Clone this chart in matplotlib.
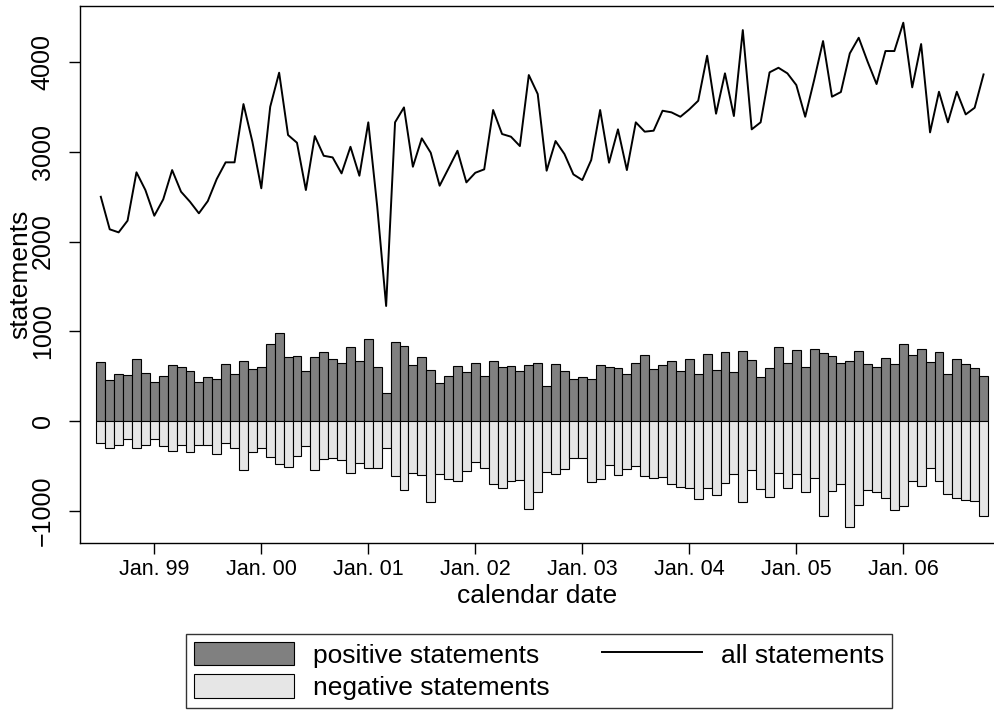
import matplotlib
matplotlib.use("Agg")
import matplotlib.pyplot as plt
import numpy as np
from matplotlib.patches import Patch
from matplotlib.lines import Line2D

plt.rcParams['font.family'] = ['Liberation Sans', 'DejaVu Sans']

# monthly counts, Jul 1998 .. Oct 2006
start_year = 1998.5
all_statements = [
    2498, 2136, 2102, 2232, 2770, 2573, 2287, 2469, 2795, 2554,
    2443, 2314, 2450, 2695, 2881, 2881, 3529, 3110, 2592, 3499,
    3878, 3185, 3099, 2573, 3173, 2954, 2936, 2758, 3054, 2732,
    3326, 2390, 1283, 3326, 3492, 2832, 3148, 2988, 2621, 2814,
    3010, 2658, 2765, 2803, 3463, 3196, 3166, 3062, 3852, 3641,
    2788, 3118, 2973, 2747, 2684, 2907, 3463, 2877, 3248, 2795,
    3326, 3222, 3233, 3455, 3437, 3388, 3470, 3566, 4067, 3422,
    3871, 3396, 4352, 3248, 3326, 3882, 3933, 3871, 3741, 3388,
    3796, 4230, 3611, 3663, 4093, 4267, 4000, 3752, 4119, 4119,
    4434, 3715, 4197, 3214, 3666, 3326, 3666, 3414, 3488, 3859,
]
positive = [
    656, 460, 530, 515, 697, 541, 441, 508, 630, 601,
    564, 441, 497, 467, 641, 530, 671, 586, 608, 864,
    983, 712, 730, 556, 712, 768, 693, 645, 827, 667,
    920, 604, 311, 886, 834, 630, 712, 567, 430, 504,
    619, 549, 649, 504, 671, 608, 619, 564, 627, 649,
    393, 638, 564, 471, 493, 471, 630, 608, 593, 523,
    649, 742, 582, 627, 675, 564, 690, 530, 753, 575,
    768, 552, 786, 686, 493, 593, 823, 653, 790, 601,
    801, 756, 723, 653, 671, 786, 638, 608, 701, 641,
    864, 742, 805, 660, 775, 523, 690, 634, 593, 501,
]
negative = [
    245, 293, 267, 200, 300, 263, 197, 274, 330, 263,
    345, 260, 267, 367, 241, 293, 545, 345, 297, 397,
    478, 508, 382, 271, 538, 419, 412, 430, 571, 464,
    523, 515, 300, 612, 764, 575, 593, 901, 586, 645,
    660, 556, 449, 523, 693, 738, 667, 649, 975, 782,
    560, 590, 530, 412, 411, 675, 641, 482, 601, 527,
    497, 604, 634, 619, 701, 727, 745, 868, 745, 816,
    686, 590, 901, 545, 749, 845, 571, 738, 590, 782,
    634, 1057, 771, 697, 1172, 931, 760, 790, 853, 983,
    942, 660, 719, 515, 664, 805, 853, 871, 883, 1057,
]
tick_years = list(range(1999, 2007))
tick_labels = ["Jan. 99", "Jan. 00", "Jan. 01", "Jan. 02",
               "Jan. 03", "Jan. 04", "Jan. 05", "Jan. 06"]

x = start_year + np.arange(len(all_statements)) / 12.0
pos = np.array(positive)
neg = -np.array(negative)

W, H = 995, 711
fig = plt.figure(figsize=(W / 100, H / 100), dpi=100)
left, right, top, bottom = 79.7, 995, 6, 542.7
ax = fig.add_axes([left / W, 1 - bottom / H, (right - left) / W, (bottom - top) / H])

ax.bar(x, pos, width=1 / 12, color='#808080', edgecolor='black', linewidth=0.8)
ax.bar(x, neg, width=1 / 12, color='#e6e6e6', edgecolor='black', linewidth=0.8)
ax.plot(x, all_statements, color='black', linewidth=1.4)

x0 = 1999 - (154.3 - left) / 107.0
ax.set_xlim(x0, x0 + (right - left) / 107.0)
ax.set_ylim(-1350, 4620)

ax.set_xticks(tick_years)
ax.set_xticklabels(tick_labels, fontsize=15.5)
ax.set_yticks([-1000, 0, 1000, 2000, 3000, 4000])
ax.set_yticklabels(['\u22121000', '0', '1000', '2000', '3000', '4000'],
                   fontsize=18, rotation=90, va='center')
ax.tick_params(axis='x', length=8, width=1, pad=4)
ax.tick_params(axis='y', length=8, width=1, pad=10)
ax.spines['right'].set_visible(False)
for s in ['left', 'top', 'bottom']:
    ax.spines[s].set_linewidth(1.0)

fig.text(20 / W, 1 - 274 / H, 'statements', rotation=90, fontsize=19,
         ha='center', va='center')
fig.text(537 / W, 1 - 596 / H, 'calendar date', fontsize=19,
         ha='center', va='center')

handles = [
    Patch(facecolor='#808080', edgecolor='black', linewidth=0.8),
    Patch(facecolor='#e6e6e6', edgecolor='black', linewidth=0.8),
    Line2D([], [], color='black', linewidth=1.4),
]
labels = ['positive statements', 'negative statements', 'all statements']
leg = fig.legend(handles, labels, ncol=2, loc='lower left',
                 bbox_to_anchor=(186 / W, 1 - 708 / H), fontsize=19,
                 frameon=True, fancybox=False, edgecolor='black',
                 handlelength=3.8, handleheight=1.0, handletextpad=0.7,
                 columnspacing=2.0, borderpad=0.3, labelspacing=0.25,
                 borderaxespad=0)
leg.get_frame().set_linewidth(1.0)

fig.savefig('out.png', dpi=100)
